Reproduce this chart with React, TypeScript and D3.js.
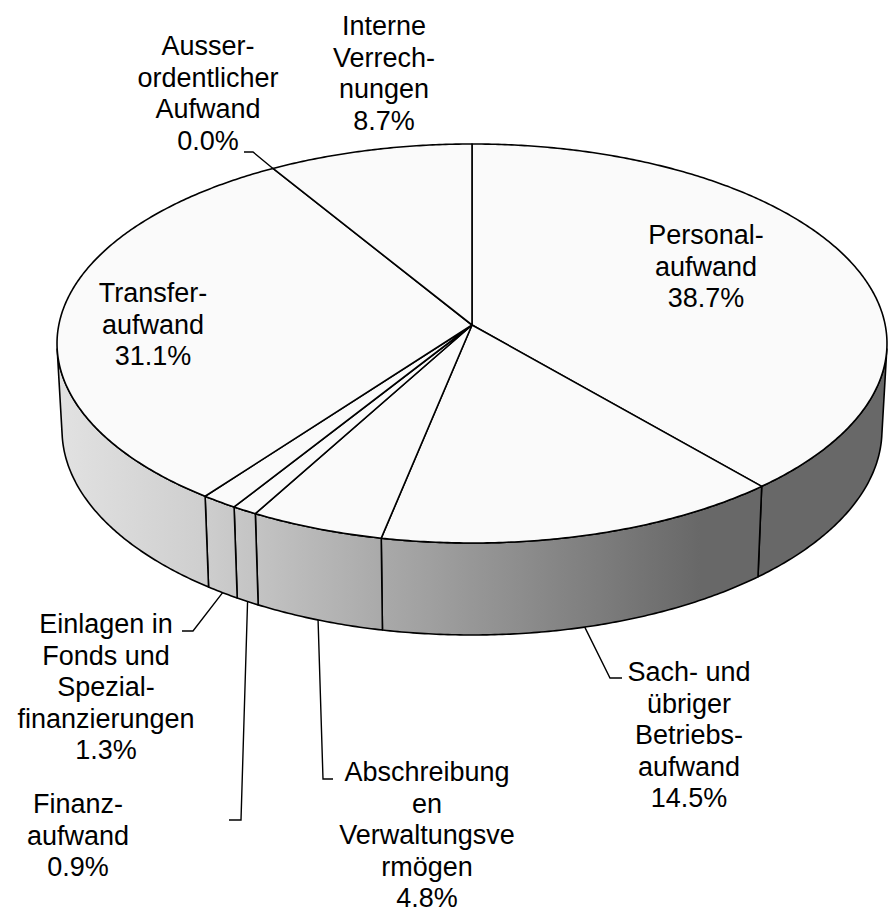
import React from "react";
import * as d3 from "d3";

// ---- data ----
const categories = [
  "Personalaufwand",
  "Sach- und übriger Betriebsaufwand",
  "Abschreibungen Verwaltungsvermögen",
  "Finanzaufwand",
  "Einlagen in Fonds und Spezialfinanzierungen",
  "Transferaufwand",
  "Ausserordentlicher Aufwand",
  "Interne Verrechnungen",
];
const values = [38.7, 14.5, 4.8, 0.9, 1.3, 31.1, 0.0, 8.7];
const labelLines = [
  ["Personal-", "aufwand"],
  ["Sach- und", "übriger", "Betriebs-", "aufwand"],
  ["Abschreibung", "en", "Verwaltungsve", "rmögen"],
  ["Finanz-", "aufwand"],
  ["Einlagen in", "Fonds und", "Spezial-", "finanzierungen"],
  ["Transfer-", "aufwand"],
  ["Ausser-", "ordentlicher", "Aufwand"],
  ["Interne", "Verrech-", "nungen"],
];

// ---- layout (label placement, leader elbows) ----
type Layout = { x: number; y: number; leader?: number[][]; anchor?: "side" | "edge" };
const labelLayout: Layout[] = [
  { x: 706, y: 244 },
  { x: 689, y: 681, leader: [[610, 678], [622, 678]], anchor: "side" },
  { x: 427, y: 781, leader: [[323, 779], [333, 779]], anchor: "side" },
  { x: 78, y: 813, leader: [[241, 820], [229, 820]], anchor: "side" },
  { x: 106, y: 633, leader: [[193, 631], [182, 631]], anchor: "side" },
  { x: 153, y: 302 },
  { x: 208, y: 55, leader: [[253, 152], [244, 152]], anchor: "edge" },
  { x: 384, y: 35 },
];

const W = 888;
const H = 914;
const CX = 472;
const CY = 325;
const PHI = (28.6 * Math.PI) / 180; // camera elevation
const DIST = 9.47; // camera distance (radius units)
const FOCAL = 3913;
const DEPTH = 0.2404; // pie thickness (radius units)
const FONT = 27;
const LINE = 31.6;

function project(theta: number, y: number): [number, number] {
  const px = Math.sin(theta);
  const pz = -Math.cos(theta);
  const yc = y * Math.cos(PHI) - pz * Math.sin(PHI);
  const depth = DIST - y * Math.sin(PHI) - pz * Math.cos(PHI);
  return [CX + (FOCAL * px) / depth, CY - (FOCAL * yc) / depth];
}

function arcPoints(a0: number, a1: number, y: number): [number, number][] {
  const n = Math.max(2, Math.ceil(((a1 - a0) * 180) / Math.PI / 0.5));
  return d3.range(n + 1).map((i) => project(a0 + ((a1 - a0) * i) / n, y));
}

export default function App() {
  const pie = d3
    .pie<number>()
    .sort(null)
    .value((d) => d)
    .startAngle(0)
    .endAngle(2 * Math.PI);
  const arcs = pie(values);
  const line = d3.line();
  const fmt = d3.format(".1f");

  const thA = Math.acos(-1 / (DIST * Math.cos(PHI)));
  const thB = 2 * Math.PI - thA;

  const sides = arcs
    .map((a, i) => {
      const s = Math.max(a.startAngle, thA);
      const e = Math.min(a.endAngle, thB);
      if (e <= s) return null;
      const top = arcPoints(s, e, 0);
      const bot = arcPoints(s, e, -DEPTH).reverse();
      return { i, d: line([...top, ...bot])! + "Z" };
    })
    .filter(Boolean) as { i: number; d: string }[];

  const tops = arcs
    .map((a, i) => {
      if (a.endAngle - a.startAngle <= 0) return null;
      const pts = arcPoints(a.startAngle, a.endAngle, 0);
      return { i, d: line([[CX, CY], ...pts])! + "Z" };
    })
    .filter(Boolean) as { i: number; d: string }[];

  const leaders = arcs.map((a, i) => {
    const L = labelLayout[i];
    if (!L.leader) return null;
    const mid = (a.startAngle + a.endAngle) / 2;
    const start = L.anchor === "edge" ? project(a.startAngle, 0) : project(mid, -DEPTH);
    return { i, d: line([start, ...(L.leader as [number, number][])])! };
  });

  return (
    <svg
      width={W}
      height={H}
      style={{ position: "absolute", left: 0, top: 0, background: "#ffffff" }}
      fontFamily="'Liberation Sans', Arial, Helvetica, sans-serif"
    >
      <defs>
        <linearGradient id="sideGrad" gradientUnits="userSpaceOnUse" x1={57} y1={0} x2={887} y2={0}>
          <stop offset={0} stopColor="#e2e2e2" />
          <stop offset={0.172} stopColor="#cfcfcf" />
          <stop offset={0.775} stopColor="#686868" />
          <stop offset={1} stopColor="#686868" />
        </linearGradient>
      </defs>
      <rect width={W} height={H} fill="#ffffff" />
      <g>
        {sides.map((s) => (
          <path
            key={"s" + s.i}
            d={s.d}
            fill="url(#sideGrad)"
            stroke="#000"
            strokeWidth={1.6}
            strokeLinejoin="round"
          />
        ))}
      </g>
      <g>
        {tops.map((t) => (
          <path
            key={"t" + t.i}
            d={t.d}
            fill="#fafafa"
            stroke="#000"
            strokeWidth={1.6}
            strokeLinejoin="round"
          />
        ))}
      </g>
      <g>
        {leaders.map((l) =>
          l ? <path key={"l" + l.i} d={l.d} fill="none" stroke="#000" strokeWidth={1.4} /> : null
        )}
      </g>
      <g fontSize={FONT} fill="#000" textAnchor="middle">
        {categories.map((c, i) => {
          const L = labelLayout[i];
          const lines = [...labelLines[i], fmt(values[i]) + "%"];
          return (
            <text key={"x" + i} x={L.x} y={L.y}>
              {lines.map((t, j) => (
                <tspan key={j} x={L.x} y={L.y + j * LINE}>
                  {t}
                </tspan>
              ))}
            </text>
          );
        })}
      </g>
    </svg>
  );
}
